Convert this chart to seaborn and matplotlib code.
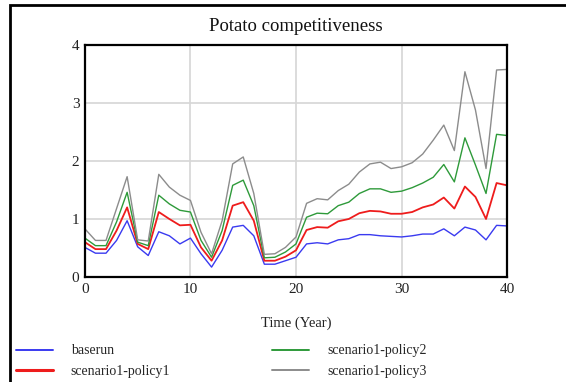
import numpy as np
import pandas as pd
import matplotlib
matplotlib.use("Agg")
import matplotlib.pyplot as plt
import seaborn as sns
from matplotlib.patches import Rectangle
from matplotlib.lines import Line2D

years = list(range(0, 41))
baserun = [0.51, 0.41, 0.41, 0.63, 0.97, 0.52, 0.37, 0.78, 0.71, 0.57, 0.67,
           0.40, 0.17, 0.46, 0.86, 0.89, 0.71, 0.22, 0.22, 0.28, 0.34,
           0.57, 0.59, 0.57, 0.64, 0.66, 0.73, 0.73, 0.71, 0.70, 0.69,
           0.71, 0.74, 0.74, 0.83, 0.71, 0.86, 0.81, 0.64, 0.89, 0.88]
policy1 = [0.60, 0.48, 0.48, 0.80, 1.20, 0.57, 0.48, 1.12, 1.00, 0.89, 0.90,
           0.51, 0.28, 0.63, 1.23, 1.29, 0.97, 0.28, 0.28, 0.35, 0.46,
           0.81, 0.86, 0.85, 0.96, 1.00, 1.10, 1.14, 1.13, 1.09, 1.09,
           1.12, 1.20, 1.25, 1.37, 1.18, 1.56, 1.38, 1.00, 1.62, 1.58]
policy2 = [0.67, 0.54, 0.54, 0.95, 1.46, 0.60, 0.54, 1.41, 1.26, 1.15, 1.12,
           0.63, 0.34, 0.80, 1.58, 1.67, 1.23, 0.33, 0.34, 0.43, 0.57,
           1.03, 1.10, 1.09, 1.23, 1.29, 1.44, 1.52, 1.52, 1.46, 1.48,
           1.54, 1.62, 1.72, 1.94, 1.64, 2.40, 1.93, 1.44, 2.46, 2.44]
policy3 = [0.83, 0.63, 0.63, 1.18, 1.73, 0.64, 0.62, 1.77, 1.55, 1.41, 1.32,
           0.77, 0.40, 0.97, 1.95, 2.07, 1.44, 0.39, 0.40, 0.51, 0.69,
           1.27, 1.35, 1.33, 1.49, 1.60, 1.81, 1.95, 1.98, 1.87, 1.90,
           1.97, 2.12, 2.36, 2.62, 2.18, 3.54, 2.88, 1.87, 3.57, 3.58]
series_names = ["baserun", "scenario1-policy1", "scenario1-policy2", "scenario1-policy3"]
x_ticks = [0, 10, 20, 30, 40]
y_ticks = [0, 1, 2, 3, 4]

frames = []
for name, vals in zip(series_names, [baserun, policy1, policy2, policy3]):
    frames.append(pd.DataFrame({"Time": years, "Value": vals, "Series": name}))
df = pd.concat(frames, ignore_index=True)

sns.set_style("white")
plt.rcParams['font.family'] = ['Liberation Serif', 'DejaVu Serif']

fig = plt.figure(figsize=(5.66, 3.82), dpi=100)
ax = fig.add_axes([0.150, 0.275, 0.746, 0.607])

palette = {"baserun": "#3a3af0", "scenario1-policy1": "#ee1c1c",
           "scenario1-policy2": "#2e9a3a", "scenario1-policy3": "#8c8c8c"}
sns.lineplot(data=df, x="Time", y="Value", hue="Series", palette=palette,
             ax=ax, linewidth=1.0, legend=False)
for line, name in zip(ax.get_lines(), series_names):
    if name == "scenario1-policy1":
        line.set_linewidth(1.3)

ax.set_xlim(0, 40)
ax.set_ylim(0, 4)
ax.set_xticks(x_ticks)
ax.set_yticks(y_ticks)
ax.grid(True, color="#d6d6d6", linewidth=1.2)
ax.set_axisbelow(True)
for s in ax.spines.values():
    s.set_color("black")
    s.set_linewidth(1.6)
    s.set_visible(True)
ax.tick_params(axis="both", length=0, labelsize=11, colors="#222222", pad=4)
ax.set_xlabel("Time (Year)", fontsize=10.5, labelpad=15, color="#222222")
ax.set_ylabel("")
ax.set_title("Potato competitiveness", fontsize=13.5, pad=10, color="#111111")

handles = [Line2D([0], [0], color=palette[n], linewidth=(2.2 if n == "scenario1-policy1" else 1.4)) for n in series_names]
fig.legend(handles, series_names, loc="lower left", bbox_to_anchor=(0.006, -0.023),
           ncol=2, frameon=False, fontsize=10, handlelength=2.65, handletextpad=1.3,
           columnspacing=7.35, labelspacing=0.57)

fig.patches.append(Rectangle((0.018, -0.05), 1.2, 1.037, transform=fig.transFigure,
                             fill=False, edgecolor="black", linewidth=2.0))

fig.savefig("out.png", dpi=100)
